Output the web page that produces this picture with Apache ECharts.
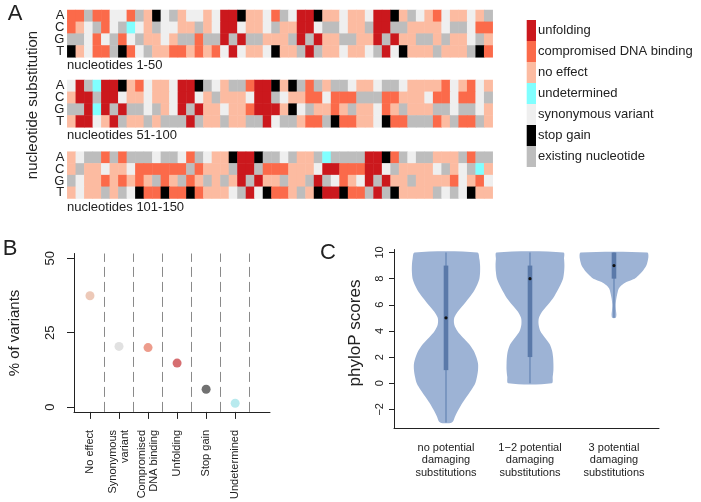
<!DOCTYPE html>
<html><head><meta charset="utf-8">
<script src="https://cdn.jsdelivr.net/npm/echarts@6/dist/echarts.min.js"></script>
<style>html,body{margin:0;padding:0;background:#fff}#c{width:701px;height:502px}</style>
</head><body><div id="c"></div>
<script>
// ---------- Panel A data ----------
const nucleotides = ['A', 'C', 'G', 'T'];
const effectCodes = ['U', 'D', 'N', 'X', 'S', 'P', 'E'];
const effectLabels = ['unfolding', 'compromised DNA binding', 'no effect', 'undetermined', 'synonymous variant', 'stop gain', 'existing nucleotide'];
const effectColors = ['#cb181d', '#fb6a4a', '#fcbba1', '#80ffff', '#efefef', '#000000', '#bdbdbd'];
const blockTitles = ['nucleotides 1-50', 'nucleotides 51-100', 'nucleotides 101-150'];
// rows A, C, G, T ; one letter per nucleotide position
const block1Rows = [
  'DDEDDSSDENPSENSSNSUUPNNSD' + 'ESUUPNNSNNSUUPNESNDSNNSNE',
  'DNSEDSEXSNESSNNENSUUSNNSE' + 'NNUUSEESNNEUUEENNNNSEESDD',
  'EESDSEDSENNSNEEDEEUEUEENN' + 'NEUEUNNEENNUEUNNEENENNSEN',
  'PNSDDEPDSENNDDNDNDSUSNNSP' + 'NNEUENNSNNSEUSPNNNENNNEPD'
];
const block2Rows = [
  'SUEXUUPNDSNNSUUPESNEEDUU' + 'PNPEDENEESNNSEESNNNNDSNDSN',
  'NUUEUUSNNSNNSUUSNENNNSUU' + 'ESNNDDSDDDEEEDDNNNSDDSDDSE',
  'EEUXUEUEESENSUEUNNSNNDUU' + 'UNPSENNDNENNSDNENNNEESEESN',
  'NUUSNUENNENEEEUENNENNEEU' + 'SEENDDEPDDNNSPDDEEEDNEDDEN'
];
const block3Rows = [
  'NSEEDEDEEESEESDESNNPUUPEE' + 'SENNEXEEEEUUPDESEENNNEDEE',
  'NENNSNNSDDDDDDEDNNNEUUEDD' + 'DNNNSUUDDDUUSENNNNSENSEXN',
  'ESNNDNDNDNEDNEDNENENUEUNN' + 'ENNEUESDNSUEUNNENNNNDSNDS',
  'NSNNENESPDDPDDPDNNNSEUSPD' + 'DNENPUUPDDEUEPNNNNESESPNN'
];

// ---------- Panel B data ----------
const variantCategories = ['No effect', 'Synonymous\nvariant', 'Compromised\nDNA binding', 'Unfolding', 'Stop gain', 'Undetermined'];
const variantPercent = [37.4, 20.4, 20.0, 14.8, 6.0, 1.3];
const variantColors = ['#e8bba6', '#d9d9d9', '#e8836f', '#cc4a4e', '#4d4d4d', '#a6e5ea'];
const variantTicks = [0, 25, 50];

// ---------- Panel C data ----------
const groupLabels = ['no potential\ndamaging\nsubstitutions', '1\u22122 potential\ndamaging\nsubstitutions', '3 potential\ndamaging\nsubstitutions'];
const phyloTicks = [-2, 0, 2, 4, 6, 8, 10];
const violin1Levels = [10, 9.5, 9, 8.5, 8, 7.5, 7, 6.5, 6, 5.5, 5, 4.5, 4, 3.5, 3, 2.5, 2, 1.5, 1, 0.5, 0, -0.5, -1, -1.5, -2, -2.5, -3];
const violin1Density = [0.91, 0.97, 0.99, 0.99, 0.97, 0.90, 0.80, 0.66, 0.51, 0.35, 0.24, 0.24, 0.33, 0.49, 0.67, 0.80, 0.88, 0.93, 0.93, 0.90, 0.85, 0.74, 0.61, 0.48, 0.37, 0.27, 0.17];
const violin2Levels = [10, 9.5, 9, 8.5, 8, 7.5, 7, 6.5, 6, 5.5, 5, 4.5, 4, 3.5, 3, 2.5, 2, 1.5, 1, 0.5, 0];
const violin2Density = [0.97, 0.99, 1.0, 0.99, 0.96, 0.88, 0.78, 0.67, 0.52, 0.36, 0.26, 0.25, 0.30, 0.43, 0.57, 0.64, 0.67, 0.68, 0.68, 0.66, 0.63];
const violin3Levels = [10, 9.75, 9.5, 9.25, 9, 8.75, 8.5, 8.25, 8, 7.75, 7.5, 7.25, 7, 6.5, 6, 5.5, 5.25, 5];
const violin3Density = [0.97, 1.0, 0.99, 0.97, 0.94, 0.88, 0.81, 0.71, 0.60, 0.36, 0.22, 0.14, 0.11, 0.07, 0.05, 0.06, 0.07, 0.05];
const boxMin = [-3, 0, 5];
const boxQ1 = [1, 2, 8];
const boxMedian = [5, 8, 9];
const boxQ3 = [9, 9, 10];
const boxMax = [10, 10, 10];

// ---------- build ----------
const FONT = 'Liberation Sans, Arial, Helvetica, sans-serif';
const TXT = '#222';
const blocks = [block1Rows, block2Rows, block3Rows];
const violinLevels = [violin1Levels, violin2Levels, violin3Levels];
const violinDensity = [violin1Density, violin2Density, violin3Density];
const violinScale = 0.41;

function heatData(rows) {
  const out = [];
  rows.forEach((row, y) => {
    for (let x = 0; x < row.length; x++) out.push([x, y, effectCodes.indexOf(row[x])]);
  });
  return out;
}
const positions = Array.from({length: 50}, (_, i) => String(i + 1));

const heatGrids = [
  {left: 67.3, top: 10, width: 425.4, height: 47.3},
  {left: 67.3, top: 80, width: 425.4, height: 47.3},
  {left: 67.3, top: 151.7, width: 425.4, height: 46.8}
];
const grids = heatGrids.concat([
  {left: 74, top: 253.5, width: 196, height: 164.8},
  {left: 394, top: 249.5, width: 265, height: 178.8}
]);

const xAxes = [], yAxes = [], series = [];
for (let b = 0; b < 3; b++) {
  xAxes.push({type: 'category', gridIndex: b, data: positions, show: false});
  yAxes.push({type: 'category', gridIndex: b, data: nucleotides, inverse: true,
    axisLine: {show: false}, axisTick: {show: false},
    axisLabel: {interval: 0, fontSize: 13, color: TXT, fontFamily: FONT, margin: 3}});
  series.push({type: 'heatmap', xAxisIndex: b, yAxisIndex: b, data: heatData(blocks[b]),
    itemStyle: {borderWidth: 0}, emphasis: {disabled: true}, animation: false});
}

// Panel B
xAxes.push({type: 'value', gridIndex: 3, min: 0.45, max: 7.2,
  axisLine: {show: true, onZero: false, lineStyle: {color: TXT, width: 1}},
  axisTick: {show: true, length: 7, customValues: variantCategories.map((_, i) => i + 1), lineStyle: {color: TXT}},
  axisLabel: {customValues: variantCategories.map((_, i) => i + 1), formatter: v => variantCategories[Math.round(v) - 1] || '',
    rotate: 90, fontSize: 11, lineHeight: 12, color: TXT, fontFamily: FONT, margin: 18},
  splitLine: {show: false}});
yAxes.push({type: 'value', gridIndex: 3, min: -1.6, max: 51.6,
  axisLine: {show: true, onZero: false, lineStyle: {color: TXT, width: 1}},
  axisTick: {show: true, length: 7, customValues: variantTicks, lineStyle: {color: TXT}},
  axisLabel: {customValues: variantTicks, rotate: 90, fontSize: 13, color: TXT, fontFamily: FONT, margin: 17},
  splitLine: {show: false}});
series.push({type: 'scatter', xAxisIndex: 3, yAxisIndex: 3, symbolSize: 9,
  data: variantPercent.map((v, i) => ({value: [i + 1, v], itemStyle: {color: variantColors[i]}})),
  markLine: {silent: true, symbol: 'none', label: {show: false},
    lineStyle: {color: '#8a8a8a', type: [10, 5], width: 1},
    data: variantCategories.map((_, i) => ({xAxis: i + 1.5}))},
  animation: false});

// Panel C
xAxes.push({type: 'value', gridIndex: 4, min: 0.381, max: 3.536,
  axisLine: {show: true, onZero: false, lineStyle: {color: TXT, width: 1}},
  axisTick: {show: false},
  axisLabel: {customValues: [1, 2, 3], formatter: v => groupLabels[Math.round(v) - 1] || '',
    fontSize: 11, lineHeight: 12.5, color: TXT, fontFamily: FONT, margin: 13},
  splitLine: {show: false}});
yAxes.push({type: 'value', gridIndex: 4, min: -3.45, max: 10.23,
  axisLine: {show: true, onZero: false, lineStyle: {color: TXT, width: 1}},
  axisTick: {show: true, length: 5, customValues: phyloTicks, lineStyle: {color: TXT}},
  axisLabel: {customValues: phyloTicks, rotate: 90, fontSize: 11, color: TXT, fontFamily: FONT, margin: 9,
    formatter: v => (v < 0 ? '\u2212' + Math.abs(v) : String(v))},
  splitLine: {show: false}});
series.push({type: 'custom', xAxisIndex: 4, yAxisIndex: 4,
  data: boxMedian.map((m, i) => [i + 1, m]),
  renderItem: function (params, api) {
    const g = params.dataIndex;
    const cx = g + 1;
    const lv = violinLevels[g], dn = violinDensity[g];
    const pts = [];
    for (let i = 0; i < lv.length; i++) pts.push(api.coord([cx + dn[i] * violinScale, lv[i]]));
    for (let i = lv.length - 1; i >= 0; i--) pts.push(api.coord([cx - dn[i] * violinScale, lv[i]]));
    const top = api.coord([cx, boxMax[g]]), bot = api.coord([cx, boxMin[g]]);
    const q1 = api.coord([cx, boxQ1[g]]), q3 = api.coord([cx, boxQ3[g]]), md = api.coord([cx, boxMedian[g]]);
    return {type: 'group', children: [
      {type: 'polygon', shape: {points: pts, smooth: 0.3}, style: {fill: '#9db3d5'}},
      {type: 'line', shape: {x1: top[0], y1: top[1], x2: bot[0], y2: bot[1]}, style: {stroke: '#6f8dba', lineWidth: 1.5}},
      {type: 'rect', shape: {x: q3[0] - 2.3, y: q3[1], width: 4.6, height: q1[1] - q3[1]}, style: {fill: '#5a79a9'}},
      {type: 'circle', shape: {cx: md[0], cy: md[1], r: 1.6}, style: {fill: '#111'}}
    ]};
  },
  animation: false});

// graphic: panel letters, titles, legend
const graphic = [
  {type: 'text', x: 15, y: 14, style: {text: 'A', font: '22px ' + FONT, fill: TXT, align: 'center', verticalAlign: 'middle'}},
  {type: 'text', x: 10, y: 249, style: {text: 'B', font: '22px ' + FONT, fill: TXT, align: 'center', verticalAlign: 'middle'}},
  {type: 'text', x: 328, y: 253, style: {text: 'C', font: '22px ' + FONT, fill: TXT, align: 'center', verticalAlign: 'middle'}},
  {type: 'text', x: 33, y: 105, rotation: Math.PI / 2, style: {text: 'nucleotide substitution', font: '15px ' + FONT, fill: TXT, align: 'center', verticalAlign: 'middle'}},
  {type: 'text', x: 15, y: 333, rotation: Math.PI / 2, style: {text: '% of variants', font: '15px ' + FONT, fill: TXT, align: 'center', verticalAlign: 'middle'}},
  {type: 'text', x: 355, y: 333, rotation: Math.PI / 2, style: {text: 'phyloP scores', font: '17px ' + FONT, fill: TXT, align: 'center', verticalAlign: 'middle'}}
];
const titleY = [65, 135, 207];
blockTitles.forEach((t, i) => graphic.push({type: 'text', x: 67, y: titleY[i],
  style: {text: t, font: '13px ' + FONT, fill: TXT, align: 'left', verticalAlign: 'middle'}}));
effectLabels.forEach((t, i) => {
  graphic.push({type: 'rect', shape: {x: 526.7, y: 20 + i * 21, width: 9.3, height: 21}, style: {fill: effectColors[i]}});
  graphic.push({type: 'text', x: 538, y: 30.5 + i * 21, style: {text: t, font: '13px ' + FONT, fill: TXT, align: 'left', verticalAlign: 'middle'}});
});

const chart = echarts.init(document.getElementById('c'), null, {renderer: 'canvas'});
chart.setOption({
  animation: false,
  backgroundColor: '#fff',
  grid: grids,
  xAxis: xAxes,
  yAxis: yAxes,
  visualMap: {type: 'piecewise', show: false, dimension: 2, seriesIndex: [0, 1, 2],
    pieces: effectColors.map((c, i) => ({value: i, color: c}))},
  graphic: graphic,
  series: series
});
</script></body></html>
